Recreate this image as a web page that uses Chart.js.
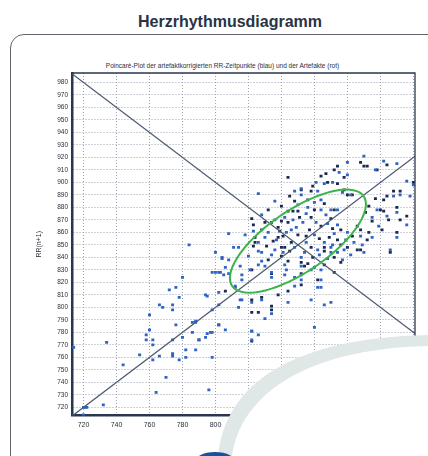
<!DOCTYPE html>
<html>
<head>
    <title>Herzrhythmusdiagramm</title>
    <meta charset="utf-8">
    <style>
        html, body { margin: 0; padding: 0; background: #ffffff; }
        body { width: 428px; height: 456px; position: relative; overflow: hidden; font-family: "Liberation Sans", Arial, sans-serif; }
        #box { position: absolute; left: 10px; top: 34px; width: 520px; height: 520px; border: 1.5px solid #5f646c; border-radius: 14px; }
        #title { position: absolute; left: 0; top: 12px; width: 460px; text-align: center; font-weight: bold; font-size: 16px; line-height: 20px; color: #2a3344; }
        #subtitle { position: absolute; left: 0; top: 62px; width: 445px; text-align: center; font-size: 6.5px; line-height: 8px; color: #2a3140; }
        #chart { position: absolute; left: 0; top: 0; }
        #swoosh { position: absolute; left: 0; top: 0; }
    </style>
</head>
<body>
    <div id="box"></div>
    <div id="title">Herzrhythmusdiagramm</div>
    <div id="subtitle">Poincaré-Plot der artefaktkorrigierten RR-Zeitpunkte (blau) und der Artefakte (rot)</div>
    <canvas id="chart" width="428" height="456"></canvas>
    <svg id="swoosh" width="428" height="456">
        <path d="M 218,456 C 225,385 290,338 428,335 L 428,456 Z" fill="#dfe8e6"></path>
        <path d="M 232,456 C 240,398 300,349 428,346 L 428,456 Z" fill="#ffffff"></path>
        <ellipse cx="215" cy="463" rx="21" ry="11" fill="#17529c"></ellipse>
    </svg>

    <script src="https://cdn.jsdelivr.net/npm/chart.js"></script>
    <script>
        // tick labels
        var xTicks = [720, 740, 760, 780, 800, 820, 840, 860, 880, 900, 920];
        var yTicks = [720, 730, 740, 750, 760, 770, 780, 790, 800, 810, 820, 830, 840, 850, 860,
                      870, 880, 890, 900, 910, 920, 930, 940, 950, 960, 970, 980];

        // RR(n) / RR(n+1) pairs, blue points
        var blauPunkte = [
            [784,850],[780,824],[776,816],[772,814],[778,808],[766,802],[768,800],[774,802],[774,798],[760,794],
            [776,786],[760,782],[758,778],[758,774],[762,774],[762,770],[780,776],[786,788],[788,788],[786,780],
            [790,774],[774,774],[782,766],[788,766],[782,760],[774,763],[774,761],[778,758],[766,761],[762,758],
            [754,762],[744,754],[734,772],[770,744],[764,732],[732,722],[722,720],[721,720],[720,720],[720,714],
            [714,768],[796,734],[798,760],[794,776],[798,780],[806,782],[802,786],[798,798],[802,802],[794,810],
            [802,812],[812,816],[814,800],[816,806],[822,804],[826,778],[822,774],[822,781],[834,795],[828,806],
            [844,804],[858,806],[860,784],[866,802],[870,804],[862,816],[864,822],[848,817],[852,822],[852,833],
            [842,826],[834,824],[830,833],[826,834],[816,822],[828,837],[843,830],[841,844],[828,844],[815,833],
            [877,838],[874,844],[870,844],[890,844],[906,846],[868,839],[800,844],[804,840],[804,839],[808,838],
            [798,828],[800,828],[802,828],[803,828],[805,826],[806,832],[808,827],[812,817],[820,841],[826,845],
            [821,830],[816,826],[834,828],[842,834],[848,824],[795,809],[815,806],[830,791],[795,779],[797,780],
            [822,781],[788,789],[858,830],[864,816],[852,840],[852,826],[808,859],[826,891],[848,893],[852,895],
            [818,858],[823,861],[811,848],[814,848],[832,860],[837,854],[849,864],[880,916],[897,910],[910,915],
            [916,901],[918,889],[912,890],[908,889],[910,876],[904,873],[898,878],[895,872],[910,856],[899,865],
            [895,856],[889,850],[888,857],[880,860],[879,854],[871,850],[875,908],[880,906],[871,900],[877,892],
            [866,899],[861,900],[862,893],[864,886],[864,878],[882,890],[870,878],[874,878],[852,890],[855,875],
            [861,868],[868,867],[874,866],[860,858],[866,852],[872,859],[855,852],[862,846],[856,880],[867,874],
            [853,868],[846,862],[842,872],[836,870],[848,848],[830,856],[826,852],[836,846],[854,844],[863,842],
            [870,848],[878,846],[884,852],[882,842],[850,882],[860,884],[836,885],[828,874],[847,870],[843,860],
            [834,842],[860,832],[864,830],[916,866],[890,921],[902,917],[920,898]
        ];

        // darker points
        var dunkelPunkte = [
            [844,904],[840,881],[844,877],[847,877],[850,877],[822,871],[823,866],[834,868],[840,869],[824,856],
            [824,852],[823,849],[835,853],[839,861],[841,857],[840,848],[842,848],[888,916],[890,913],[892,913],
            [904,914],[898,910],[920,900],[912,893],[908,893],[904,889],[902,886],[910,880],[912,870],[902,877],
            [905,870],[897,887],[900,878],[893,881],[891,876],[895,869],[910,860],[901,862],[893,860],[892,854],
            [886,865],[888,862],[883,857],[874,854],[872,910],[874,913],[878,904],[867,907],[868,900],[874,899],
            [878,894],[864,905],[859,897],[858,893],[866,883],[880,890],[883,890],[872,878],[852,894],[858,872],
            [864,865],[871,863],[857,862],[863,855],[869,856],[876,862],[858,848],[866,848],[860,878],[870,871],
            [850,858],[844,868],[838,864],[846,852],[855,857],[828,862],[831,849],[845,845],[859,840],[866,845],
            [876,850],[880,848],[886,846],[848,885],[856,886],[845,889],[832,878],[830,868],[851,872],[838,856],
            [856,835],[866,834],[852,818],[852,827],[854,833],[834,827],[822,830],[832,838],[844,837],[840,841],
            [872,840],[872,828],[888,846],[906,844],[876,836],[862,822],[852,836],[844,813],[828,808],[822,796],
            [834,798],[834,801],[838,810],[822,806],[826,796],[802,786],[822,773],[790,774],[806,813],[916,873]
        ];

        // identity line and perpendicular line
        var identLinie = [[713, 713], [921, 921]];
        var querLinie = [[713, 987], [921, 779]];

        // green ellipse: centre, half axes along / across the identity line
        var ellipseMitte = [850, 853];
        var sd2 = 54;
        var sd1 = 22;

        var xMin = 713, xMax = 921;
        var yMin = 713.5, yMax = 987.5;

        function toXY(list) {
            return list.map(function (p) { return { x: p[0], y: p[1] }; });
        }

        var ellipsePlugin = {
            id: 'ellipse',
            afterDatasetsDraw: function (chart) {
                var ctx = chart.ctx;
                var xs = chart.scales.x, ys = chart.scales.y;
                var a = chart.chartArea;
                ctx.save();
                ctx.beginPath();
                ctx.rect(a.left, a.top, a.right - a.left, a.bottom - a.top);
                ctx.clip();
                ctx.beginPath();
                for (var i = 0; i <= 120; i++) {
                    var t = i / 120 * Math.PI * 2;
                    var u = sd2 * Math.cos(t) / Math.SQRT2;
                    var v = sd1 * Math.sin(t) / Math.SQRT2;
                    var px = xs.getPixelForValue(ellipseMitte[0] + u - v);
                    var py = ys.getPixelForValue(ellipseMitte[1] + u + v);
                    if (i === 0) ctx.moveTo(px, py); else ctx.lineTo(px, py);
                }
                ctx.closePath();
                ctx.strokeStyle = '#3bb44a';
                ctx.lineWidth = 2;
                ctx.stroke();
                ctx.restore();

                // top and right frame
                ctx.save();
                ctx.strokeStyle = '#2a3650';
                ctx.lineWidth = 1.3;
                ctx.beginPath();
                ctx.moveTo(a.left, a.top);
                ctx.lineTo(a.right, a.top);
                ctx.lineTo(a.right, a.bottom);
                ctx.stroke();
                ctx.restore();
            }
        };

        var ctx = document.getElementById('chart').getContext('2d');
        new Chart(ctx, {
            type: 'scatter',
            data: {
                datasets: [{
                    label: 'Identität',
                    data: toXY(identLinie),
                    showLine: true,
                    borderColor: '#4b5a70',
                    borderWidth: 1.2,
                    pointRadius: 0
                }, {
                    label: 'Quer',
                    data: toXY(querLinie),
                    showLine: true,
                    borderColor: '#4b5a70',
                    borderWidth: 1.2,
                    pointRadius: 0
                }, {
                    label: 'blau',
                    data: toXY(blauPunkte),
                    pointStyle: 'rect',
                    pointRadius: 2.1,
                    borderWidth: 0,
                    backgroundColor: '#2f64c2'
                }, {
                    label: 'dunkel',
                    data: toXY(dunkelPunkte),
                    pointStyle: 'rect',
                    pointRadius: 2.1,
                    borderWidth: 0,
                    backgroundColor: '#1b2a52'
                }]
            },
            options: {
                responsive: false,
                animation: false,
                layout: { padding: { left: 30, top: 73, right: 13, bottom: 20.5 } },
                plugins: {
                    legend: { display: false },
                    tooltip: { enabled: false }
                },
                scales: {
                    x: {
                        type: 'linear',
                        min: xMin,
                        max: xMax,
                        afterBuildTicks: function (s) { s.ticks = xTicks.map(function (v) { return { value: v }; }); },
                        afterFit: function (s) { s.height = 20; },
                        grid: { color: '#9ca3b2', lineWidth: 1, drawTicks: false },
                        border: { color: '#2a3650', width: 2.5, dash: [1, 2] },
                        ticks: { padding: 5, color: '#2b2f38', font: { size: 7, family: 'Liberation Sans' } }
                    },
                    y: {
                        type: 'linear',
                        min: yMin,
                        max: yMax,
                        afterBuildTicks: function (s) { s.ticks = yTicks.map(function (v) { return { value: v }; }); },
                        afterFit: function (s) { s.width = 42; },
                        grid: { color: '#9ca3b2', lineWidth: 1, drawTicks: false },
                        border: { color: '#2a3650', width: 2.5, dash: [1, 2] },
                        ticks: { padding: 4, color: '#2b2f38', font: { size: 6.5, family: 'Liberation Sans' } },
                        title: {
                            display: true,
                            text: 'RR(n+1)',
                            color: '#2b2f38',
                            padding: { top: 5, bottom: 0 },
                            font: { size: 7, family: 'Liberation Sans' }
                        }
                    }
                }
            },
            plugins: [ellipsePlugin]
        });
    </script>
</body>
</html>
